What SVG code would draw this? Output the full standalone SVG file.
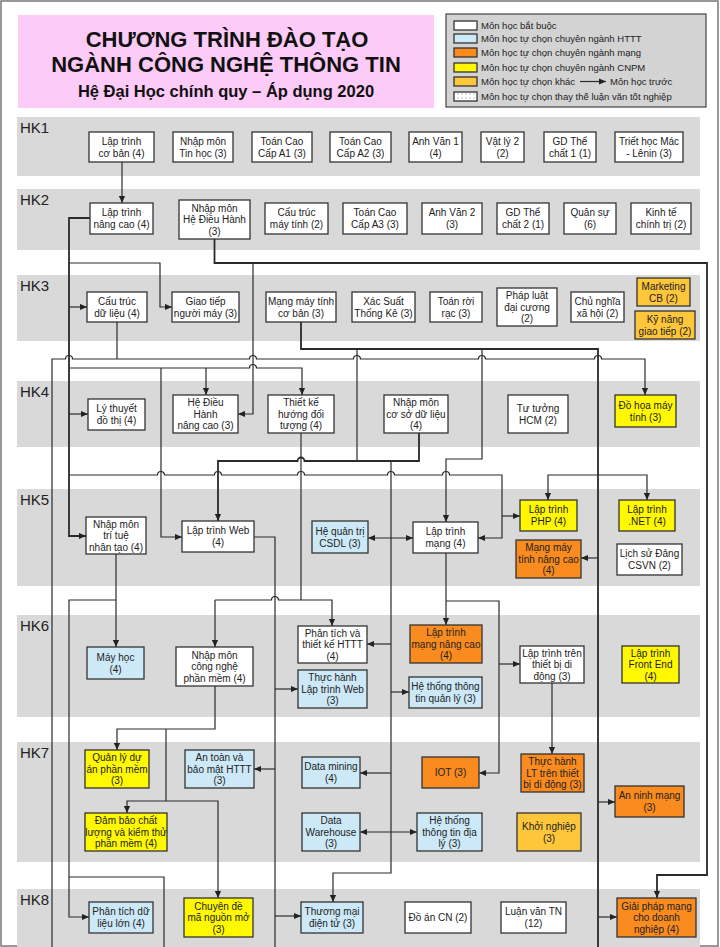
<svg xmlns="http://www.w3.org/2000/svg" width="720" height="947" viewBox="0 0 720 947">
<defs>
<marker id="ah" viewBox="0 0 8 8" refX="8" refY="4" markerWidth="7" markerHeight="7" markerUnits="userSpaceOnUse" orient="auto-start-reverse"><path d="M0,0.5 L8,4 L0,7.5 z" fill="#222"/></marker>
<pattern id="dots" width="4" height="4" patternUnits="userSpaceOnUse"><rect width="4" height="4" fill="#fff"/><circle cx="2" cy="2" r="0.8" fill="#bbb"/></pattern>
<style>
.band{fill:#D9D9D9}
.hk{font-family:"Liberation Sans",Arial,sans-serif;font-size:15px;fill:#222}
.b{stroke:#333;stroke-width:1.3}
.w{fill:#fff}
.bl{fill:#CDE9F7}
.or{fill:#F98B1F}
.ye{fill:#FFF800}
.go{fill:#FDC63B}
.t{font-family:"Liberation Sans",Arial,sans-serif;font-size:10px;fill:#222;text-anchor:middle}
.c{fill:none;stroke:#2a2a2a;stroke-width:1.2}
.k{stroke-width:1.8}
.a{marker-end:url(#ah)}
.lg{font-family:"Liberation Sans",Arial,sans-serif;font-size:9.5px;fill:#222}
.ti{font-family:"Liberation Sans",Arial,sans-serif;font-weight:bold;fill:#111;text-anchor:middle}
</style>
</defs>
<rect x="0" y="0" width="720" height="947" fill="#fff"/>
<rect x="1" y="1" width="717" height="945" fill="none" stroke="#777" stroke-width="1.5"/>

<g id="header">
<rect x="18" y="15" width="416" height="93" fill="#FDCBF7"/>
<text class="ti" x="227" y="47" font-size="22">CHƯƠNG TRÌNH ĐÀO TẠO</text>
<text class="ti" x="226" y="72" font-size="22">NGÀNH CÔNG NGHỆ THÔNG TIN</text>
<text class="ti" x="226" y="97" font-size="16.5">Hệ Đại Học chính quy – Áp dụng 2020</text>
</g>

<g id="legend">
<rect x="446" y="14" width="260" height="93" fill="#D3D3D3" stroke="#444" stroke-width="1.2"/>
<rect x="454" y="21" width="23" height="9" class="w b"/>
<text class="lg" x="481" y="28.8">Môn học bắt buộc</text>
<rect x="454" y="34" width="23" height="9" class="bl b"/>
<text class="lg" x="481" y="41.8">Môn học tự chọn chuyên ngành HTTT</text>
<rect x="454" y="48" width="23" height="9" class="or b"/>
<text class="lg" x="481" y="55.8">Môn học tự chọn chuyên ngành mạng</text>
<rect x="454" y="63" width="23" height="9" class="ye b"/>
<text class="lg" x="481" y="70.8">Môn học tự chọn chuyên ngành CNPM</text>
<rect x="454" y="77" width="23" height="9" class="go b"/>
<text class="lg" x="481" y="84.8">Môn học tự chọn khác</text>
<path class="c a" d="M580 81.5H606"/>
<text class="lg" x="610" y="84.8">Môn học trước</text>
<rect x="454" y="92" width="23" height="9" fill="url(#dots)" class="b"/>
<text class="lg" x="481" y="99.8">Môn học tự chọn thay thế luận văn tốt nghiệp</text>
</g>

<g id="semesters">
<rect class="band" x="17" y="117" width="683" height="59"/>
<text class="hk" x="20" y="133">HK1</text>
<rect class="band" x="17" y="189" width="683" height="61"/>
<text class="hk" x="20" y="205">HK2</text>
<rect class="band" x="17" y="275" width="683" height="66"/>
<text class="hk" x="20" y="291">HK3</text>
<rect class="band" x="17" y="381" width="683" height="66"/>
<text class="hk" x="20" y="397">HK4</text>
<rect class="band" x="17" y="489" width="683" height="97"/>
<text class="hk" x="20" y="505">HK5</text>
<rect class="band" x="17" y="615" width="683" height="102"/>
<text class="hk" x="20" y="631">HK6</text>
<rect class="band" x="17" y="742" width="683" height="120"/>
<text class="hk" x="20" y="758">HK7</text>
<rect class="band" x="17" y="889" width="683" height="58"/>
<text class="hk" x="20" y="905">HK8</text>
</g>

<g id="connectors">
<path class="c a" d="M122 162V203"/>
<path class="c k a" d="M90 218H69V536H86"/>
<path class="c a" d="M69 263H160V307H172"/>
<path class="c a" d="M69 307H87"/>
<path class="c a" d="M69 368H249.5A3.5 3.5 0 0 1 256.5 368H302V395"/>
<path class="c a" d="M206 368V395"/>
<path class="c a" d="M161 368V537H182"/>
<path class="c a" d="M69 414H88"/>
<path class="c a" d="M69 475H157.5A3.5 3.5 0 0 1 164.5 475H214.5A3.5 3.5 0 0 1 221.5 475H297.5A3.5 3.5 0 0 1 304.5 475H387.5A3.5 3.5 0 0 1 394.5 475H442.5A3.5 3.5 0 0 1 449.5 475H502V538H478"/>
<path class="c a" d="M502 516H520"/>
<path class="c k a" d="M214.5 239V263H707V875H657V898"/>
<path class="c a" d="M253 263V414H238"/>
<path class="c" d="M117 322V359"/>
<path class="c a" d="M52 947V359H65.5A3.5 3.5 0 0 1 72.5 359H249.5A3.5 3.5 0 0 1 256.5 359H353.5A3.5 3.5 0 0 1 360.5 359H478.5A3.5 3.5 0 0 1 485.5 359H594.5A3.5 3.5 0 0 1 601.5 359H645V395"/>
<path class="c k" d="M301 322V349H598V947"/>
<path class="c" d="M357 349V461"/>
<path class="c a" d="M482 349V459H446V522"/>
<path class="c a" d="M598 475H548V500"/>
<path class="c a" d="M598 475H647V500"/>
<path class="c a" d="M598 558H581"/>
<path class="c a" d="M598 802H615"/>
<path class="c a" d="M598 917H617"/>
<path class="c" d="M301 433V600"/>
<path class="c a" d="M215 600H271.5A3.5 3.5 0 0 1 278.5 600H332V626"/>
<path class="c a" d="M215 600V647"/>
<path class="c k a" d="M419 433V461H304.5A3.5 3.5 0 0 0 297.5 461H218V521"/>
<path class="c a" d="M391 461V873H333V902"/>
<path class="c a" d="M391 644H367"/>
<path class="c a" d="M391 692H409"/>
<path class="c a" d="M391 773H360"/>
<path class="c" d="M254 537H275V947"/>
<path class="c a" d="M275 689H298"/>
<path class="c a" d="M275 769H254"/>
<path class="c a" d="M275 916H301"/>
<path class="c a" d="M116 554V647"/>
<path class="c a" d="M116 600H69V917H89"/>
<path class="c" d="M69 877H164V947"/>
<path class="c a" d="M215 686V729H117V750"/>
<path class="c" d="M166 729V801"/>
<path class="c a" d="M166 801H127V813"/>
<path class="c a" d="M166 801H218V898"/>
<path class="c a" d="M446 553V625"/>
<path class="c a" d="M446 601H499V773H479"/>
<path class="c a" d="M499 664H520"/>
<path class="c a" d="M552 683V754"/>
<path class="c a" style="marker-start:url(#ah)" d="M368 538H413"/>
<path class="c a" style="marker-start:url(#ah)" d="M360 832H417"/>
</g>

<g id="n-ltcb"><rect class="w b" x="89" y="132" width="65" height="30"/><text class="t"><tspan x="121.5" y="144.5">Lập trình</tspan><tspan x="121.5" y="156.5">cơ bản (4)</tspan></text></g>
<g id="n-nmth"><rect class="w b" x="173" y="132" width="60" height="30"/><text class="t"><tspan x="203" y="144.5">Nhập môn</tspan><tspan x="203" y="156.5">Tin học (3)</tspan></text></g>
<g id="n-tcca1"><rect class="w b" x="252" y="132" width="60" height="30"/><text class="t"><tspan x="282" y="144.5">Toán Cao</tspan><tspan x="282" y="156.5">Cấp A1 (3)</tspan></text></g>
<g id="n-tcca2"><rect class="w b" x="330" y="132" width="61" height="30"/><text class="t"><tspan x="360.5" y="144.5">Toán Cao</tspan><tspan x="360.5" y="156.5">Cấp A2 (3)</tspan></text></g>
<g id="n-av1"><rect class="w b" x="409" y="132" width="53" height="30"/><text class="t"><tspan x="435.5" y="144.5">Anh Văn 1</tspan><tspan x="435.5" y="156.5">(4)</tspan></text></g>
<g id="n-vl2"><rect class="w b" x="481" y="132" width="43" height="30"/><text class="t"><tspan x="502.5" y="144.5">Vật lý 2</tspan><tspan x="502.5" y="156.5">(2)</tspan></text></g>
<g id="n-gdtc1"><rect class="w b" x="544" y="132" width="52" height="30"/><text class="t"><tspan x="570" y="144.5">GD Thể</tspan><tspan x="570" y="156.5">chất 1 (1)</tspan></text></g>
<g id="n-thml"><rect class="w b" x="615" y="132" width="68" height="30"/><text class="t"><tspan x="649" y="144.5">Triết học Mác</tspan><tspan x="649" y="156.5">- Lênin (3)</tspan></text></g>

<g id="n-ltnc"><rect class="w b" x="90" y="203" width="63" height="31"/><text class="t"><tspan x="121.5" y="216">Lập trình</tspan><tspan x="121.5" y="228">nâng cao (4)</tspan></text></g>
<g id="n-nmhdh"><rect class="w b" x="179" y="200" width="71" height="39"/><text class="t"><tspan x="214.5" y="211.5">Nhập môn</tspan><tspan x="214.5" y="223">Hệ Điều Hành</tspan><tspan x="214.5" y="234.5">(3)</tspan></text></g>
<g id="n-ctmt"><rect class="w b" x="265" y="203" width="63" height="31"/><text class="t"><tspan x="296.5" y="216">Cấu trúc</tspan><tspan x="296.5" y="228">máy tính (2)</tspan></text></g>
<g id="n-tcca3"><rect class="w b" x="343" y="203" width="64" height="31"/><text class="t"><tspan x="375" y="216">Toán Cao</tspan><tspan x="375" y="228">Cấp A3 (3)</tspan></text></g>
<g id="n-av2"><rect class="w b" x="422" y="203" width="60" height="31"/><text class="t"><tspan x="452" y="216">Anh Văn 2</tspan><tspan x="452" y="228">(3)</tspan></text></g>
<g id="n-gdtc2"><rect class="w b" x="497" y="203" width="52" height="31"/><text class="t"><tspan x="523" y="216">GD Thể</tspan><tspan x="523" y="228">chất 2 (1)</tspan></text></g>
<g id="n-qs"><rect class="w b" x="564" y="203" width="52" height="31"/><text class="t"><tspan x="590" y="216">Quân sự</tspan><tspan x="590" y="228">(6)</tspan></text></g>
<g id="n-kttt"><rect class="w b" x="631" y="203" width="60" height="31"/><text class="t"><tspan x="661" y="216">Kinh tế</tspan><tspan x="661" y="228">chính trị (2)</tspan></text></g>

<g id="n-ctdl"><rect class="w b" x="87" y="292" width="60" height="30"/><text class="t"><tspan x="117" y="304.5">Cấu trúc</tspan><tspan x="117" y="316.5">dữ liệu (4)</tspan></text></g>
<g id="n-gtnm"><rect class="w b" x="172" y="292" width="67" height="30"/><text class="t"><tspan x="205.5" y="304.5">Giao tiếp</tspan><tspan x="205.5" y="316.5">người máy (3)</tspan></text></g>
<g id="n-mmtcb"><rect class="w b" x="266" y="292" width="70" height="30"/><text class="t"><tspan x="301" y="304.5">Mạng máy tính</tspan><tspan x="301" y="316.5">cơ bản (3)</tspan></text></g>
<g id="n-xstk"><rect class="w b" x="352" y="292" width="63" height="30"/><text class="t"><tspan x="383.5" y="304.5">Xác Suất</tspan><tspan x="383.5" y="316.5">Thống Kê (3)</tspan></text></g>
<g id="n-trr"><rect class="w b" x="430" y="292" width="52" height="30"/><text class="t"><tspan x="456" y="304.5">Toán rời</tspan><tspan x="456" y="316.5">rạc (3)</tspan></text></g>
<g id="n-pldc"><rect class="w b" x="497" y="288" width="60" height="38"/><text class="t"><tspan x="527" y="299">Pháp luật</tspan><tspan x="527" y="310.5">đại cương</tspan><tspan x="527" y="322">(2)</tspan></text></g>
<g id="n-cnxh"><rect class="w b" x="571" y="292" width="53" height="30"/><text class="t"><tspan x="597.5" y="304.5">Chủ nghĩa</tspan><tspan x="597.5" y="316.5">xã hội (2)</tspan></text></g>
<g id="n-mkt"><rect class="go b" x="637" y="278" width="53" height="28"/><text class="t"><tspan x="663.5" y="289.5">Marketing</tspan><tspan x="663.5" y="301.5">CB (2)</tspan></text></g>
<g id="n-kngt"><rect class="go b" x="635" y="311" width="60" height="28"/><text class="t"><tspan x="665" y="322.5">Kỹ năng</tspan><tspan x="665" y="334.5">giao tiếp (2)</tspan></text></g>

<g id="n-lttdt"><rect class="w b" x="88" y="399" width="57" height="31"/><text class="t"><tspan x="116.5" y="412">Lý thuyết</tspan><tspan x="116.5" y="424">đồ thị (4)</tspan></text></g>
<g id="n-hdhnc"><rect class="w b" x="173" y="395" width="65" height="38"/><text class="t"><tspan x="205.5" y="406">Hệ Điều</tspan><tspan x="205.5" y="417.5">Hành</tspan><tspan x="205.5" y="429">nâng cao (3)</tspan></text></g>
<g id="n-tkhdt"><rect class="w b" x="268" y="395" width="66" height="38"/><text class="t"><tspan x="301" y="406">Thiết kế</tspan><tspan x="301" y="417.5">hướng đối</tspan><tspan x="301" y="429">tượng (4)</tspan></text></g>
<g id="n-nmcsdl"><rect class="w b" x="384" y="395" width="64" height="38"/><text class="t"><tspan x="416" y="406">Nhập môn</tspan><tspan x="416" y="417.5">cơ sở dữ liệu</tspan><tspan x="416" y="429">(4)</tspan></text></g>
<g id="n-tthcm"><rect class="w b" x="508" y="395" width="60" height="38"/><text class="t"><tspan x="538" y="411.5">Tư tưởng</tspan><tspan x="538" y="423.5">HCM (2)</tspan></text></g>
<g id="n-dhmt"><rect class="ye b" x="615" y="395" width="61" height="32"/><text class="t"><tspan x="645.5" y="408.5">Đồ họa máy</tspan><tspan x="645.5" y="420.5">tính (3)</tspan></text></g>

<g id="n-nmttnt"><rect class="w b" x="86" y="517" width="60" height="37"/><text class="t"><tspan x="116" y="527.5">Nhập môn</tspan><tspan x="116" y="539">trí tuệ</tspan><tspan x="116" y="550.5">nhân tạo (4)</tspan></text></g>
<g id="n-ltweb"><rect class="w b" x="182" y="521" width="72" height="31"/><text class="t"><tspan x="218" y="534">Lập trình Web</tspan><tspan x="218" y="546">(4)</tspan></text></g>
<g id="n-hqtcsdl"><rect class="bl b" x="312" y="521" width="56" height="32"/><text class="t"><tspan x="340" y="534.5">Hệ quản trị</tspan><tspan x="340" y="546.5">CSDL (3)</tspan></text></g>
<g id="n-ltm"><rect class="w b" x="413" y="522" width="65" height="31"/><text class="t"><tspan x="445.5" y="535">Lập trình</tspan><tspan x="445.5" y="547">mạng (4)</tspan></text></g>
<g id="n-php"><rect class="ye b" x="520" y="500" width="57" height="31"/><text class="t"><tspan x="548.5" y="513">Lập trình</tspan><tspan x="548.5" y="525">PHP (4)</tspan></text></g>
<g id="n-net"><rect class="ye b" x="619" y="500" width="56" height="31"/><text class="t"><tspan x="647" y="513">Lập trình</tspan><tspan x="647" y="525">.NET (4)</tspan></text></g>
<g id="n-mmtnc"><rect class="or b" x="516" y="540" width="65" height="38"/><text class="t"><tspan x="548.5" y="551">Mạng máy</tspan><tspan x="548.5" y="562.5">tính nâng cao</tspan><tspan x="548.5" y="574">(4)</tspan></text></g>
<g id="n-lsd"><rect class="w b" x="617" y="544" width="65" height="31"/><text class="t"><tspan x="649.5" y="557">Lịch sử Đảng</tspan><tspan x="649.5" y="569">CSVN (2)</tspan></text></g>

<g id="n-mh"><rect class="bl b" x="87" y="647" width="57" height="32"/><text class="t"><tspan x="115.5" y="660.5">Máy học</tspan><tspan x="115.5" y="672.5">(4)</tspan></text></g>
<g id="n-nmcnpm"><rect class="w b" x="176" y="647" width="77" height="39"/><text class="t"><tspan x="214.5" y="658.5">Nhập môn</tspan><tspan x="214.5" y="670">công nghệ</tspan><tspan x="214.5" y="681.5">phần mềm (4)</tspan></text></g>
<g id="n-pttk"><rect class="w b" x="298" y="626" width="69" height="37"/><text class="t"><tspan x="332.5" y="636.5">Phân tích và</tspan><tspan x="332.5" y="648">thiết kế HTTT</tspan><tspan x="332.5" y="659.5">(4)</tspan></text></g>
<g id="n-thltw"><rect class="bl b" x="298" y="670" width="69" height="38"/><text class="t"><tspan x="332.5" y="681">Thực hành</tspan><tspan x="332.5" y="692.5">Lập trình Web</tspan><tspan x="332.5" y="704">(3)</tspan></text></g>
<g id="n-ltmnc"><rect class="or b" x="410" y="625" width="72" height="38"/><text class="t"><tspan x="446" y="636">Lập trình</tspan><tspan x="446" y="647.5">mạng nâng cao</tspan><tspan x="446" y="659">(4)</tspan></text></g>
<g id="n-httql"><rect class="bl b" x="409" y="677" width="73" height="31"/><text class="t"><tspan x="445.5" y="690">Hệ thống thông</tspan><tspan x="445.5" y="702">tin quản lý (3)</tspan></text></g>
<g id="n-ltdd"><rect class="w b" x="520" y="646" width="64" height="37"/><text class="t"><tspan x="552" y="656.5">Lập trình trên</tspan><tspan x="552" y="668">thiết bị di</tspan><tspan x="552" y="679.5">động (3)</tspan></text></g>
<g id="n-fe"><rect class="ye b" x="622" y="646" width="57" height="37"/><text class="t"><tspan x="650.5" y="656.5">Lập trình</tspan><tspan x="650.5" y="668">Front End</tspan><tspan x="650.5" y="679.5">(4)</tspan></text></g>

<g id="n-qlda"><rect class="ye b" x="85" y="750" width="64" height="38"/><text class="t"><tspan x="117" y="761">Quản lý dự</tspan><tspan x="117" y="772.5">án phần mềm</tspan><tspan x="117" y="784">(3)</tspan></text></g>
<g id="n-atbm"><rect class="bl b" x="185" y="750" width="69" height="38"/><text class="t"><tspan x="219.5" y="761">An toàn và</tspan><tspan x="219.5" y="772.5">bảo mật HTTT</tspan><tspan x="219.5" y="784">(3)</tspan></text></g>
<g id="n-dm"><rect class="bl b" x="302" y="757" width="58" height="31"/><text class="t"><tspan x="331" y="770">Data mining</tspan><tspan x="331" y="782">(4)</tspan></text></g>
<g id="n-iot"><rect class="or b" x="422" y="757" width="57" height="31"/><text class="t" x="450.5" y="776">IOT (3)</text></g>
<g id="n-thltdd"><rect class="or b" x="521" y="754" width="63" height="38"/><text class="t"><tspan x="552.5" y="765">Thực hành</tspan><tspan x="552.5" y="776.5">LT trên thiết</tspan><tspan x="552.5" y="788">bị di động (3)</tspan></text></g>
<g id="n-anm"><rect class="or b" x="615" y="786" width="69" height="31"/><text class="t"><tspan x="649.5" y="799">An ninh mạng</tspan><tspan x="649.5" y="811">(3)</tspan></text></g>
<g id="n-dbcl"><rect class="ye b" x="85" y="813" width="82" height="38"/><text class="t"><tspan x="126" y="824">Đảm bảo chất</tspan><tspan x="126" y="835.5">lượng và kiểm thử</tspan><tspan x="126" y="847">phần mềm (4)</tspan></text></g>
<g id="n-dw"><rect class="bl b" x="302" y="813" width="58" height="38"/><text class="t"><tspan x="331" y="824">Data</tspan><tspan x="331" y="835.5">Warehouse</tspan><tspan x="331" y="847">(3)</tspan></text></g>
<g id="n-gis"><rect class="bl b" x="417" y="813" width="65" height="38"/><text class="t"><tspan x="449.5" y="824">Hệ thống</tspan><tspan x="449.5" y="835.5">thông tin địa</tspan><tspan x="449.5" y="847">lý (3)</tspan></text></g>
<g id="n-kn"><rect class="go b" x="517" y="813" width="64" height="38"/><text class="t"><tspan x="549" y="829.5">Khởi nghiệp</tspan><tspan x="549" y="841.5">(3)</tspan></text></g>

<g id="n-ptdll"><rect class="bl b" x="89" y="902" width="64" height="31"/><text class="t"><tspan x="121" y="915">Phân tích dữ</tspan><tspan x="121" y="927">liệu lớn (4)</tspan></text></g>
<g id="n-cdmnm"><rect class="ye b" x="184" y="898" width="69" height="39"/><text class="t"><tspan x="218.5" y="909.5">Chuyên đề</tspan><tspan x="218.5" y="921">mã nguồn mở</tspan><tspan x="218.5" y="932.5">(3)</tspan></text></g>
<g id="n-tmdt"><rect class="bl b" x="301" y="902" width="62" height="31"/><text class="t"><tspan x="332" y="915">Thương mại</tspan><tspan x="332" y="927">điện tử (3)</tspan></text></g>
<g id="n-da"><rect class="w b" x="405" y="902" width="66" height="31"/><text class="t" x="438" y="921">Đồ án CN (2)</text></g>
<g id="n-lv"><rect class="w b" x="501" y="902" width="65" height="31"/><text class="t"><tspan x="533.5" y="915">Luận văn TN</tspan><tspan x="533.5" y="927">(12)</tspan></text></g>
<g id="n-gpm"><rect class="or b" x="617" y="898" width="79" height="39"/><text class="t"><tspan x="656.5" y="909.5">Giải pháp mạng</tspan><tspan x="656.5" y="921">cho doanh</tspan><tspan x="656.5" y="932.5">nghiệp (4)</tspan></text></g>
</svg>
